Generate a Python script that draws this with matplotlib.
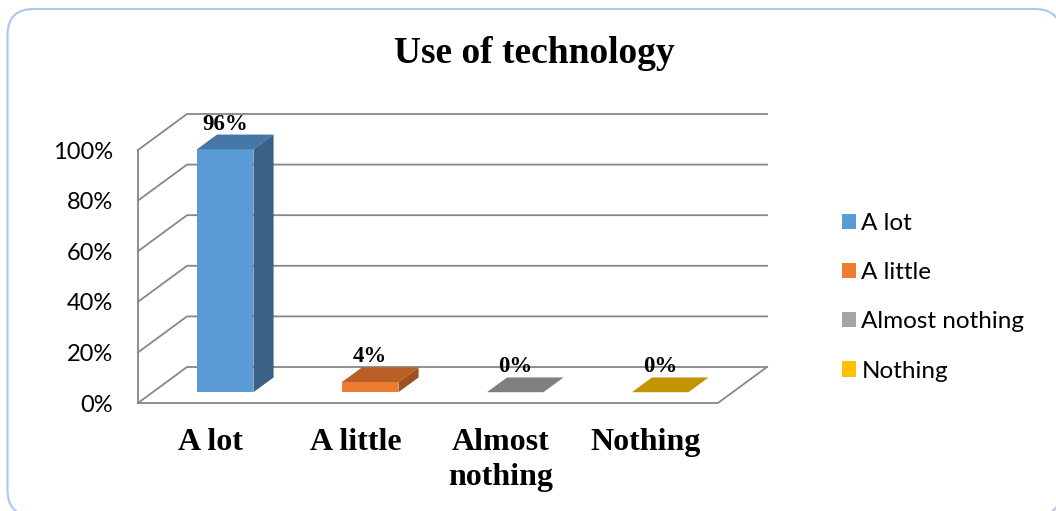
import matplotlib
matplotlib.use("Agg")
import matplotlib.pyplot as plt
from matplotlib.patches import Polygon, FancyBboxPatch, Patch

# data
categories = ["A lot", "A little", "Almost nothing", "Nothing"]
tick_labels = ["A lot", "A little", "Almost\nnothing", "Nothing"]
values = [96, 4, 0, 0]
value_labels = ["96%", "4%", "0%", "0%"]
y_ticks = [0, 20, 40, 60, 80, 100]

front_colors = ["#5B9BD5", "#ED7D31", "#A5A5A5", "#FFC000"]
top_colors = ["#4677A6", "#BA5F26", "#808080", "#C49300"]
side_colors = ["#3A6187", "#9E5220", "#6E6E6E", "#A67C00"]

plt.rcParams["font.family"] = ["Lato", "DejaVu Sans"]

W, H = 1056, 511
fig = plt.figure(figsize=(W / 100, H / 100), dpi=100)

# background axes in pixel units: rounded frame + title
bg = fig.add_axes([0, 0, 1, 1])
bg.set_xlim(0, W)
bg.set_ylim(H, 0)
bg.axis("off")
bg.add_patch(FancyBboxPatch((7.5, 9), 1053.5, 507,
                            boxstyle="round,pad=0,rounding_size=26",
                            fc="white", ec="#A9C9F0", lw=1.5))
bg.text(534, 63, "Use of technology", ha="center", va="baseline",
        family="Liberation Serif", weight="bold", fontsize=27)

# plot area: front wall at px 138, 0% at px 403
px_x, px_y = 145.0, 2.53   # pixels per category / per percent
left, right, top, bottom = 138, 780, 100, 403
ax = fig.add_axes([left / W, 1 - bottom / H, (right - left) / W, (bottom - top) / H])
ax.set_xlim(-0.5, -0.5 + (right - left) / px_x)
ax.set_ylim(0, (bottom - top) / px_y)
ax.patch.set_alpha(0)
for s in ax.spines.values():
    s.set_visible(False)

# depth of the fake 3d box
dx, dy = 49 / px_x, 36 / px_y
n = len(values)
x0, x1 = -0.5, n - 0.5
grid = dict(color="#878787", lw=1.3, zorder=1, clip_on=False)
for v in y_ticks:
    ax.plot([x0, x0 + dx, x1 + dx], [v, v + dy, v + dy], **grid)
ax.plot([x0, x0], [0, 100], **grid)
ax.plot([x0, x1, x1 + dx], [0, 0, dy], **grid)

# bars sit between depth z0 and z1
z0, z1 = 0.3, 0.71
bw = 0.39
ddx, ddy = (z1 - z0) * dx, (z1 - z0) * dy
ax.bar([i + z0 * dx for i in range(n)], values, width=bw, bottom=z0 * dy,
       color=front_colors, zorder=3)
for i, v in enumerate(values):
    l = i - bw / 2 + z0 * dx
    r = i + bw / 2 + z0 * dx
    yb = z0 * dy
    yt = yb + v
    ax.add_patch(Polygon([(l, yt), (r, yt), (r + ddx, yt + ddy), (l + ddx, yt + ddy)],
                         closed=True, fc=top_colors[i], ec="none", zorder=3))
    if v > 0:
        ax.add_patch(Polygon([(r, yb), (r, yt), (r + ddx, yt + ddy), (r + ddx, yb + ddy)],
                             closed=True, fc=side_colors[i], ec="none", zorder=3))
    ax.text(i + z0 * dx, yt + ddy, value_labels[i], ha="center", va="bottom",
            family="Liberation Serif", weight="bold", fontsize=16.5, zorder=4)

ax.set_yticks(y_ticks, [f"{v}%" for v in y_ticks])
ax.tick_params(axis="y", length=0, pad=18, labelsize=17)
ax.set_xticks(range(n), tick_labels)
for lab in ax.get_xticklabels():
    lab.set_family("Liberation Serif")
    lab.set_weight("bold")
    lab.set_fontsize(23)
    lab.set_linespacing(1.25)
ax.tick_params(axis="x", length=0, pad=18)

handles = [Patch(fc=c) for c in front_colors]
fig.legend(handles, categories, loc="upper left", bbox_to_anchor=(842 / W, 1 - 213 / H),
           frameon=False, fontsize=17.5, handlelength=0.58, handleheight=0.58,
           handletextpad=0.22, labelspacing=1.16, borderpad=0, borderaxespad=0)

fig.savefig("out.png", dpi=100)
